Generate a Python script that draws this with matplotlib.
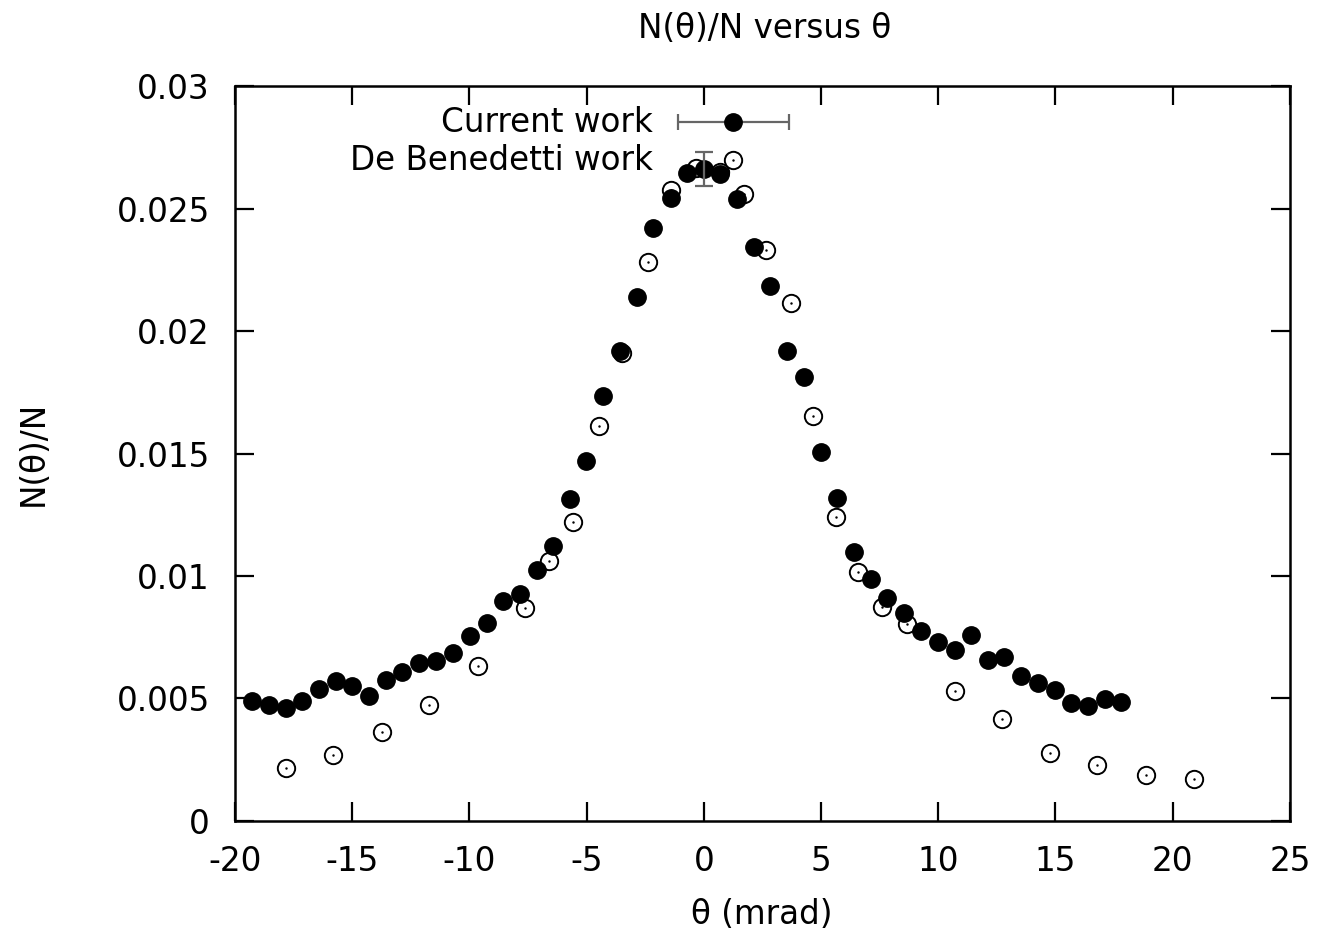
import numpy as np
import matplotlib
matplotlib.use("Agg")
import matplotlib.pyplot as plt

plt.rcParams['font.family'] = ['DejaVu Sans']

# current work (filled circles)
cur_theta = [-19.29, -18.55, -17.84, -17.13, -16.42, -15.71, -15.00, -14.29, -13.57, -12.87,
             -12.15, -11.44, -10.70, -9.98, -9.27, -8.56, -7.85, -7.13, -6.43, -5.71,
             -5.02, -4.31, -3.58, -2.87, -2.16, -1.42, -0.71, 0.0, 0.68, 1.42,
             2.13, 2.84, 3.55, 4.26, 4.98, 5.68, 6.40, 7.13, 7.82, 8.53,
             9.27, 9.99, 10.70, 11.39, 12.12, 12.81, 13.55, 14.26, 14.97, 15.68,
             16.39, 17.10, 17.81]
cur_frac = [0.00491, 0.00473, 0.00462, 0.00491, 0.00539, 0.00571, 0.00551, 0.00510, 0.00576, 0.00608,
            0.00646, 0.00654, 0.00687, 0.00755, 0.00809, 0.00898, 0.00927, 0.01024, 0.01122, 0.01314,
            0.01469, 0.01735, 0.01920, 0.02138, 0.02422, 0.02542, 0.02644, 0.02660, 0.02641, 0.02538,
            0.02344, 0.02184, 0.01920, 0.01811, 0.01507, 0.01317, 0.01099, 0.00988, 0.00909, 0.00848,
            0.00776, 0.00729, 0.00698, 0.00761, 0.00657, 0.00671, 0.00592, 0.00564, 0.00535, 0.00480,
            0.00469, 0.00499, 0.00484]
peak_err = 0.0007

# De Benedetti (open circles)
deb_theta = [-17.81, -15.81, -13.74, -11.73, -9.64, -7.62, -6.60, -5.56, -4.46, -3.48,
             -2.39, -1.42, -0.35, 0.71, 1.71, 2.67, 3.70, 4.66, 5.62, 6.58,
             7.60, 8.67, 10.70, 12.70, 14.75, 16.75, 18.88, 20.90]
deb_frac = [0.00215, 0.00269, 0.00363, 0.00473, 0.00634, 0.00868, 0.01061, 0.01222, 0.01613, 0.01909,
            0.02280, 0.02576, 0.02664, 0.02647, 0.02559, 0.02331, 0.02113, 0.01654, 0.01242, 0.01018,
            0.00875, 0.00803, 0.00532, 0.00416, 0.00276, 0.00227, 0.00189, 0.00170]

xticks = [-20, -15, -10, -5, 0, 5, 10, 15, 20, 25]
yticks = [0, 0.005, 0.01, 0.015, 0.02, 0.025, 0.03]
ytick_labels = ['0', '0.005', '0.01', '0.015', '0.02', '0.025', '0.03']

fs = 23.5

fig = plt.figure(figsize=(13.23, 9.4), dpi=100)
ax = fig.add_axes([0.1776, 0.1266, 0.7974, 0.7819])

ax.plot(deb_theta, deb_frac, 'o', ms=12.5, mfc='white', mec='black', mew=1.4, zorder=2)
ax.plot(deb_theta, deb_frac, '.', ms=1.5, color='black', zorder=2)
ax.plot(cur_theta, cur_frac, 'o', ms=12.5, mfc='black', mec='black', zorder=3)

i0 = cur_theta.index(0.0)
ax.errorbar([cur_theta[i0]], [cur_frac[i0]], yerr=[peak_err], fmt='none',
            ecolor='#666666', elinewidth=1.6, capsize=6.5, capthick=1.6, zorder=4)

# key, gnuplot style
kx_txt, kx0, kx1, kxp = 0.396, 0.420, 0.525, 0.472
ky1, ky2 = 0.951, 0.899
ax.text(kx_txt, ky1, 'Current work', transform=ax.transAxes, ha='right', va='center', fontsize=fs)
ax.text(kx_txt, ky2, 'De Benedetti work', transform=ax.transAxes, ha='right', va='center', fontsize=fs)
ax.errorbar([kxp], [ky1], xerr=[[kxp - kx0], [kx1 - kxp]], fmt='o', ms=12.5, color='black',
            ecolor='#666666', elinewidth=1.6, capsize=5.5, capthick=1.6,
            transform=ax.transAxes, clip_on=False, zorder=5)
ax.plot([kxp], [ky2], 'o', ms=12.5, mfc='white', mec='black', mew=1.4,
        transform=ax.transAxes, zorder=5)
ax.plot([kxp], [ky2], '.', ms=1.5, color='black', transform=ax.transAxes, zorder=5)

ax.set_xlim(-20, 25)
ax.set_ylim(0, 0.03)
ax.set_xticks(xticks)
ax.set_xticklabels([str(t) for t in xticks])
ax.set_yticks(yticks)
ax.set_yticklabels(ytick_labels)
ax.tick_params(direction='in', length=14, width=1.6, labelsize=fs, top=True, right=True)
ax.tick_params(axis='y', pad=18)
ax.tick_params(axis='x', pad=17)
for s in ax.spines.values():
    s.set_linewidth(1.8)

ax.set_xlabel('θ (mrad)', fontsize=fs)
ax.set_ylabel('N(θ)/N', fontsize=fs)
ax.xaxis.set_label_coords(0.499, -0.105)
ax.yaxis.set_label_coords(-0.176, 0.5)
fig.text(0.5776, 0.970, 'N(θ)/N versus θ', ha='center', va='center', fontsize=fs)

fig.savefig('out.png', dpi=100)
